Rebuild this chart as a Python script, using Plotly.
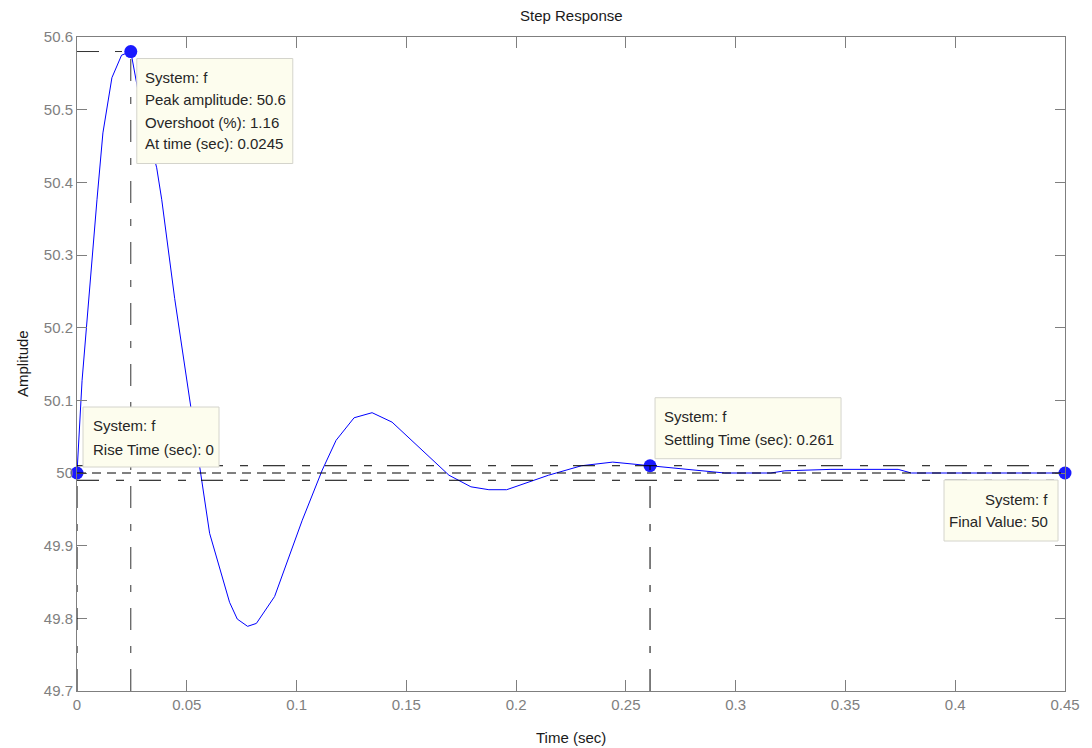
import plotly.graph_objects as go

# ---- data ----
time_s = [0, 0.0023, 0.0091, 0.0118, 0.0159, 0.0203, 0.0245, 0.0286, 0.0363, 0.0386,
          0.0445, 0.05, 0.0559, 0.0604, 0.0695, 0.073, 0.0777, 0.0817, 0.09, 0.1026,
          0.1117, 0.118, 0.1262, 0.1344, 0.1435, 0.157, 0.1694, 0.1794, 0.1876, 0.1957,
          0.2148, 0.2298, 0.244, 0.261, 0.268, 0.295, 0.316, 0.3224, 0.3434, 0.374,
          0.38, 0.45]
amplitude = [50.0, 50.127, 50.376, 50.468, 50.544, 50.575, 50.58, 50.513, 50.42, 50.376,
             50.24, 50.128, 50.008, 49.917, 49.822, 49.799, 49.789, 49.793, 49.83, 49.935,
             50.004, 50.045, 50.076, 50.083, 50.07, 50.032, 49.997, 49.981, 49.977, 49.977,
             49.997, 50.01, 50.015, 50.01, 50.008, 50.0, 50.0, 50.003, 50.005, 50.005,
             50.0, 50.0]

rise_time, rise_value = 0.0, 50.0
peak_time, peak_value = 0.0245, 50.58
settle_time, settle_value = 0.261, 50.01
final_time, final_value = 0.45, 50.0
settle_band = 0.01

x_ticks = [0, 0.05, 0.1, 0.15, 0.2, 0.25, 0.3, 0.35, 0.4, 0.45]
x_tick_text = ["0", "0.05", "0.1", "0.15", "0.2", "0.25", "0.3", "0.35", "0.4", "0.45"]
y_ticks = [49.7, 49.8, 49.9, 50.0, 50.1, 50.2, 50.3, 50.4, 50.5, 50.6]
y_tick_text = ["49.7", "49.8", "49.9", "50", "50.1", "50.2", "50.3", "50.4", "50.5", "50.6"]

box_peak = ["System: f", "Peak amplitude: 50.6", "Overshoot (%): 1.16", "At time (sec): 0.0245"]
box_rise = ["System: f", "Rise Time (sec): 0"]
box_settle = ["System: f", "Settling Time (sec): 0.261"]
box_final = ["System: f", "Final Value: 50"]

X_MIN, X_MAX = 0, 0.45
Y_MIN, Y_MAX = 49.7, 50.6

FONT = "Liberation Sans, Arial, sans-serif"
FS = 15
AXIS_GRAY = "#7f7f7f"
DASHDOT = "22px,16px,7px,16px"

fig = go.Figure()

# settling band + final value lines
for yv, dash in [(final_value + settle_band, "22px,17px,8px,15px"),
                 (final_value, "9px,6px"),
                 (final_value - settle_band, "22px,17px,8px,15px")]:
    fig.add_shape(type="line", xref="x", yref="y", x0=X_MIN, x1=X_MAX, y0=yv, y1=yv,
                  line=dict(color="black", width=1, dash=dash), layer="above")

# characteristic point guide lines
fig.add_shape(type="line", xref="x", yref="y", x0=peak_time, x1=peak_time,
              y0=Y_MIN, y1=peak_value, line=dict(color="#333333", width=1, dash=DASHDOT))
fig.add_shape(type="line", xref="x", yref="y", x0=X_MIN, x1=peak_time,
              y0=peak_value, y1=peak_value, line=dict(color="#333333", width=1, dash=DASHDOT))
fig.add_shape(type="line", xref="x", yref="y", x0=settle_time, x1=settle_time,
              y0=Y_MIN, y1=settle_value, line=dict(color="black", width=1, dash=DASHDOT))
fig.add_shape(type="line", xref="x", yref="y", x0=rise_time, x1=rise_time,
              y0=Y_MIN, y1=rise_value, line=dict(color="black", width=1, dash=DASHDOT))

fig.add_trace(go.Scatter(x=time_s, y=amplitude, mode="lines",
                         line=dict(color="#0000ff", width=1), hoverinfo="skip",
                         showlegend=False))
fig.add_trace(go.Scatter(x=[rise_time, peak_time, settle_time, final_time],
                         y=[rise_value, peak_value, settle_value, final_value],
                         mode="markers", marker=dict(color="#1a1aff", size=13),
                         hoverinfo="skip", showlegend=False, cliponaxis=False))


def data_box(ax, ay, x0, x1, y0, y1, lines, tx, ty_list, anchor="left"):
    fig.add_shape(type="rect", xref="x", yref="y", xsizemode="pixel", ysizemode="pixel",
                  xanchor=ax, yanchor=ay, x0=x0, x1=x1, y0=y0, y1=y1,
                  fillcolor="#fdfdee", line=dict(color="#d4d4cc", width=1), layer="above")
    for txt, ty in zip(lines, ty_list):
        fig.add_annotation(x=ax, y=ay, xref="x", yref="y", text=txt, showarrow=False,
                           xanchor=anchor, yanchor="middle", xshift=tx, yshift=ty,
                           font=dict(family=FONT, size=FS, color="#262626"))


data_box(peak_time, peak_value, 6, 162, -7, -112, box_peak, 12, [-26, -48, -71, -92])
data_box(rise_time, rise_value, 6, 142, 6, 66, box_rise, 14, [48, 24])
data_box(settle_time, settle_value, 5, 191, 7, 68, box_settle, 12, [49, 26])
data_box(final_time, final_value, -121, -7, -7, -68, box_final, -15, [-26, -48], anchor="right")

# titles
fig.add_annotation(x=0.5, y=1, xref="paper", yref="paper", text="Step Response",
                   showarrow=False, yshift=22, yanchor="middle",
                   font=dict(family=FONT, size=FS, color="#1a1a1a"))
fig.add_annotation(x=0.5, y=0, xref="paper", yref="paper", text="Time (sec)",
                   showarrow=False, yshift=-46, yanchor="middle",
                   font=dict(family=FONT, size=FS, color="#1a1a1a"))
fig.add_annotation(x=0, y=0.5, xref="paper", yref="paper", text="Amplitude",
                   showarrow=False, xshift=-55, xanchor="center", textangle=-90,
                   font=dict(family=FONT, size=FS, color="#1a1a1a"))

axis_common = dict(showgrid=False, zeroline=False, showline=True, linecolor=AXIS_GRAY,
                   linewidth=1, mirror="ticks", ticks="inside", tickcolor=AXIS_GRAY,
                   tickwidth=1, tickfont=dict(family=FONT, size=FS, color="#808080"))

fig.update_layout(
    width=1092, height=748,
    margin=dict(l=77, r=24, t=37, b=57),
    paper_bgcolor="white", plot_bgcolor="white",
    xaxis=dict(range=[X_MIN, X_MAX], tickvals=x_ticks, ticktext=x_tick_text,
               ticklen=11, **axis_common),
    yaxis=dict(range=[Y_MIN, Y_MAX], tickvals=y_ticks, ticktext=y_tick_text,
               ticklen=10, **axis_common),
)

fig.write_html("out.html", config={"displayModeBar": False},
               post_script="document.body.style.margin='0';")
